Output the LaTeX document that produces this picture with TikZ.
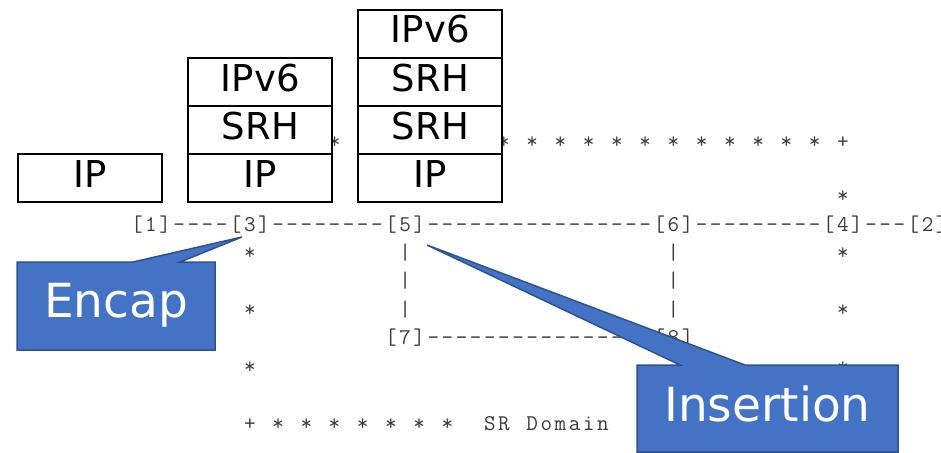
\documentclass[tikz,border=0pt]{standalone}
\usepackage{fontspec}
\newfontfamily\labelfont{DejaVu Sans}
\definecolor{calloutfill}{HTML}{4472C4}
\definecolor{calloutdraw}{HTML}{2F528F}
\definecolor{asciigray}{HTML}{3C3C3C}
% width of one character cell of the ASCII topology
\newlength\cellw \setlength\cellw{14.12pt}
\makeatletter
% typeset a string one character per fixed-width cell (~ is a blank cell)
\def\asciirow#1{\ascii@step#1\relax}
\def\ascii@step#1{\ifx\relax#1\else\makebox[\cellw][c]{#1}\expandafter\ascii@step\fi}
\makeatother
% x of the left edge of character column #1
\newcommand\colx[1]{129.8+14.12*#1}
\tikzset{
  ascii/.style={anchor=base west, inner sep=0pt, outer sep=0pt, text=asciigray,
    font=\ttfamily\fontsize{22.5}{24}\selectfont},
  layer/.style={draw=black, line width=2pt, fill=white, minimum width=144pt,
    minimum height=48pt, inner sep=0pt, text height=27pt, text depth=9pt,
    font=\labelfont\fontsize{37}{40}\selectfont},
  callout/.style={fill=calloutfill, draw=calloutdraw, line width=1.5pt, line join=miter},
  callouttext/.style={anchor=base, text=white, inner sep=0pt,
    font=\labelfont\fontsize{47}{50}\selectfont}
}
\begin{document}
\begin{tikzpicture}[x=1pt, y=-1pt]
\useasboundingbox (0,0) rectangle (941,452);

% ---- SR domain boundary (upper edge, between and right of the stacks) ----
\node[ascii] (topstar) at ({\colx{14}},148) {\asciirow{*}};
\node[ascii] (topedge) at ({\colx{26}},148)
  {\asciirow{*~*~*~*~*~*~*~*~*~*~*~*~+}};
\node[ascii] (rightstar0) at ({\colx{50}},202) {\asciirow{*}};

% ---- main path ----
\node[ascii] (n1) at ({\colx{0}},231) {\asciirow{[1]}};
\node[ascii] (l13) at ({\colx{3}},231) {\asciirow{----}};
\node[ascii] (n3) at ({\colx{7}},231) {\asciirow{[3]}};
\node[ascii] (l35) at ({\colx{10}},231) {\asciirow{--------}};
\node[ascii] (n5) at ({\colx{18}},231) {\asciirow{[5]}};
\node[ascii] (l56) at ({\colx{21}},231) {\asciirow{----------------}};
\node[ascii] (n6) at ({\colx{37}},231) {\asciirow{[6]}};
\node[ascii] (l64) at ({\colx{40}},231) {\asciirow{---------}};
\node[ascii] (n4) at ({\colx{49}},231) {\asciirow{[4]}};
\node[ascii] (l42) at ({\colx{52}},231) {\asciirow{---}};
\node[ascii] (n2) at ({\colx{55}},231) {\asciirow{[2]}};

% ---- lower detour [5]-[7]-[8]-[6] ----
\foreach \y [count=\i] in {259.4,287.8,316.2} {
  \node[ascii] (bar5-\i) at ({\colx{19}},\y) {\asciirow{|}};
  \node[ascii] (bar6-\i) at ({\colx{38}},\y) {\asciirow{|}};
}
\node[ascii] (n7) at ({\colx{18}},344.6) {\asciirow{[7]}};
\node[ascii] (l78) at ({\colx{21}},344.6) {\asciirow{----------------}};
\node[ascii] (n8) at ({\colx{37}},344.6) {\asciirow{[8]}};

% ---- SR domain boundary (sides and lower edge) ----
\foreach \y [count=\i] in {259.4,316.2,373} {
  \node[ascii] (leftstar\i) at ({\colx{8}},\y) {\asciirow{*}};
  \node[ascii] (rightstar\i) at ({\colx{50}},\y) {\asciirow{*}};
}
\node[ascii] (bottomedge) at ({\colx{8}},430)
  {\asciirow{+~*~*~*~*~*~*~*~~SR~Domain}};

% ---- header stacks ----
\node[layer] (plainip) at (90,178) {IP};

\node[layer] (encip)   at (260.3,178) {IP};
\node[layer] (encsrh)  at (260.3,130) {SRH};
\node[layer] (encv6)   at (260.3,82)  {IPv6};

\node[layer] (insip)   at (430.3,178) {IP};
\node[layer] (inssrhA) at (430.3,130) {SRH};
\node[layer] (inssrhB) at (430.3,82)  {SRH};
\node[layer] (insv6)   at (430.3,34)  {IPv6};

% ---- callouts ----
\coordinate (encaptip) at (242,237);
\coordinate (inserttip) at (427,245);
\draw[callout] (17,262) -- (133,262) -- (encaptip) -- (180,262) -- (215,262)
  -- (215,350) -- (17,350) -- cycle;
\node[callouttext] (encap) at (116,317) {Encap};
\draw[callout] (637,365) -- (680,365) -- (inserttip) -- (745,365) -- (898,365)
  -- (898,452) -- (637,452) -- cycle;
\node[callouttext] (insertion) at (767.5,421) {Insertion};
\end{tikzpicture}
\end{document}
